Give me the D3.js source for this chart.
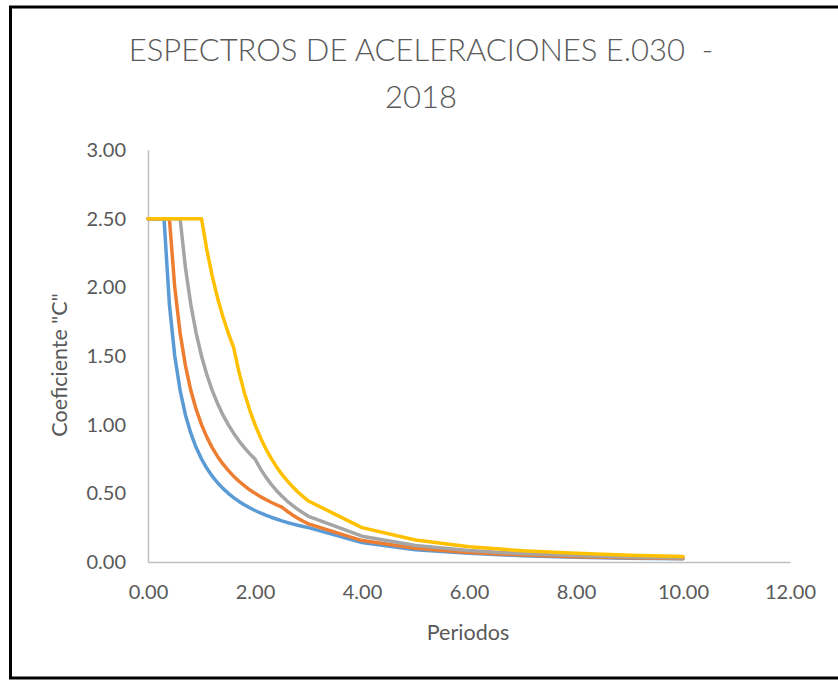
<!DOCTYPE html>
<html>
<head>
<meta charset="utf-8">
<script src="https://cdn.jsdelivr.net/npm/d3@7/dist/d3.min.js"></script>
<style>
  html, body { margin: 0; padding: 0; background: #fff; }
  svg { display: block; }
  text { font-family: Lato, "Open Sans", sans-serif; fill: #595959; }
  .title { white-space: pre; font-weight: 300; }
</style>
</head>
<body>
<svg id="chart" width="838" height="680"></svg>
<script>
// Periods T (s)
const periods = [0, 0.1, 0.2, 0.3, 0.4, 0.5, 0.6, 0.7, 0.8, 0.9, 1.0,
  1.1, 1.2, 1.3, 1.4, 1.5, 1.6, 1.7, 1.8, 1.9, 2.0,
  2.1, 2.2, 2.3, 2.4, 2.5, 2.6, 2.7, 2.8, 2.9, 3.0,
  4, 5, 6, 7, 8, 9, 10];

// Amplification factor C for each soil profile
const cS0 = [2.5, 2.5, 2.5, 2.5, 1.875, 1.5, 1.25, 1.071, 0.938, 0.833, 0.75,
  0.682, 0.625, 0.577, 0.536, 0.5, 0.469, 0.441, 0.417, 0.395, 0.375,
  0.357, 0.341, 0.326, 0.313, 0.3, 0.288, 0.278, 0.268, 0.259, 0.25,
  0.141, 0.09, 0.063, 0.046, 0.035, 0.028, 0.023];
const cS1 = [2.5, 2.5, 2.5, 2.5, 2.5, 2.0, 1.667, 1.429, 1.25, 1.111, 1.0,
  0.909, 0.833, 0.769, 0.714, 0.667, 0.625, 0.588, 0.556, 0.526, 0.5,
  0.476, 0.455, 0.435, 0.417, 0.4, 0.37, 0.343, 0.319, 0.297, 0.278,
  0.156, 0.1, 0.069, 0.051, 0.039, 0.031, 0.025];
const cS2 = [2.5, 2.5, 2.5, 2.5, 2.5, 2.5, 2.5, 2.143, 1.875, 1.667, 1.5,
  1.364, 1.25, 1.154, 1.071, 1.0, 0.938, 0.882, 0.833, 0.789, 0.75,
  0.68, 0.62, 0.567, 0.521, 0.48, 0.444, 0.412, 0.383, 0.357, 0.333,
  0.188, 0.12, 0.083, 0.061, 0.047, 0.037, 0.03];
const cS3 = [2.5, 2.5, 2.5, 2.5, 2.5, 2.5, 2.5, 2.5, 2.5, 2.5, 2.5,
  2.273, 2.083, 1.923, 1.786, 1.667, 1.563, 1.384, 1.235, 1.108, 1.0,
  0.907, 0.826, 0.756, 0.694, 0.64, 0.592, 0.549, 0.51, 0.476, 0.444,
  0.25, 0.16, 0.111, 0.082, 0.063, 0.049, 0.04];

const seriesList = [
  { name: "S0", values: cS0, color: "#5B9BD5" },
  { name: "S1", values: cS1, color: "#ED7D31" },
  { name: "S2", values: cS2, color: "#A5A5A5" },
  { name: "S3", values: cS3, color: "#FFC000" }
];

const xTicks = [0, 2, 4, 6, 8, 10, 12];
const yTicks = [0, 0.5, 1.0, 1.5, 2.0, 2.5, 3.0];

const titleLines = ["ESPECTROS DE ACELERACIONES E.030  -", "2018"];
const xTitle = "Periodos";
const yTitle = "Coeficiente \"C\"";

const svg = d3.select("#chart");

// outer frame
svg.append("rect")
  .attr("x", 10.5).attr("y", 7)
  .attr("width", 840).attr("height", 671)
  .attr("fill", "#fff")
  .attr("stroke", "#000").attr("stroke-width", 3);

const plot = { left: 148, right: 790, top: 150, bottom: 562 };

const x = d3.scaleLinear().domain([0, 12]).range([plot.left, plot.right]);
const y = d3.scaleLinear().domain([0, 3]).range([plot.bottom, plot.top]);

// title
svg.append("text")
  .attr("class", "title")
  .attr("x", 421).attr("y", 61)
  .attr("text-anchor", "middle")
  .style("font-size", "31px")
  .selectAll("tspan").data(titleLines).join("tspan")
  .attr("x", 421)
  .attr("dy", (d, i) => i === 0 ? 0 : 47)
  .text(d => d);

// axes
const xAxis = svg.append("g")
  .attr("transform", `translate(0,${plot.bottom})`)
  .call(d3.axisBottom(x).tickValues(xTicks).tickSize(0).tickPadding(23)
    .tickFormat(d3.format(".2f")));
const yAxis = svg.append("g")
  .attr("transform", `translate(${plot.left},0)`)
  .call(d3.axisLeft(y).tickValues(yTicks).tickSize(0).tickPadding(22)
    .tickFormat(d3.format(".2f")));

[xAxis, yAxis].forEach(g => {
  g.select(".domain").attr("stroke", "#BFBFBF").attr("stroke-width", 1.5);
  g.selectAll("text")
    .style("font-size", "20px")
    .style("font-family", "Lato, 'Open Sans', sans-serif")
    .attr("fill", "#595959");
});

// axis titles
svg.append("text")
  .attr("x", 468).attr("y", 640)
  .attr("text-anchor", "middle")
  .style("font-size", "21.5px")
  .text(xTitle);
svg.append("text")
  .attr("transform", "translate(67,365) rotate(-90)")
  .attr("text-anchor", "middle")
  .style("font-size", "21.5px")
  .text(yTitle);

// spectra
const line = d3.line()
  .x((d, i) => x(periods[i]))
  .y(d => y(d));

svg.append("g").selectAll("path").data(seriesList).join("path")
  .attr("d", s => line(s.values))
  .attr("fill", "none")
  .attr("stroke", s => s.color)
  .attr("stroke-width", 3.5)
  .attr("stroke-linejoin", "round")
  .attr("stroke-linecap", "round");
</script>
</body>
</html>
